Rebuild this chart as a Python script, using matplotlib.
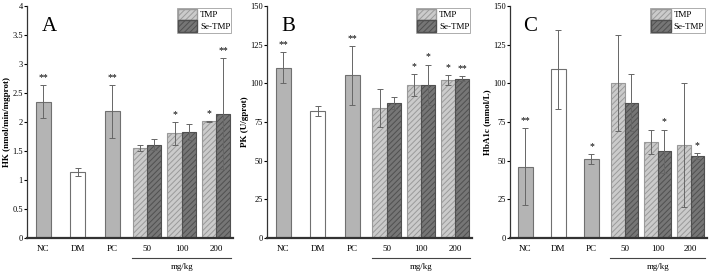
import numpy as np
import matplotlib.pyplot as plt
from matplotlib.patches import Patch
import matplotlib.transforms as mtransforms

plt.rcParams['font.family'] = ['Liberation Serif', 'DejaVu Serif']
plt.rcParams['hatch.linewidth'] = 0.7

categories = ['NC', 'DM', 'PC', '50', '100', '200']
single_groups = ['NC', 'DM', 'PC']
dose_groups = ['50', '100', '200']

# Panel A: HK
hk_single = [2.35, 1.13, 2.18]
hk_single_err = [0.28, 0.07, 0.46]
hk_tmp = [1.55, 1.80, 2.01]
hk_tmp_err = [0.06, 0.20, 0.01]
hk_se = [1.61, 1.82, 2.14]
hk_se_err = [0.10, 0.14, 0.96]
hk_single_sig = ['**', '', '**']
hk_tmp_sig = ['', '*', '*']
hk_se_sig = ['', '', '**']

# Panel B: PK
pk_single = [110, 82, 105]
pk_single_err = [10, 3, 19]
pk_tmp = [84, 99, 102]
pk_tmp_err = [12, 7, 3]
pk_se = [87, 99, 103]
pk_se_err = [4, 13, 1.5]
pk_single_sig = ['**', '', '**']
pk_tmp_sig = ['', '*', '*']
pk_se_sig = ['', '*', '**']

# Panel C: HbA1c
hb_single = [46, 109, 51]
hb_single_err = [25, 25.5, 3]
hb_tmp = [100, 62, 60]
hb_tmp_err = [31, 8, 40]
hb_se = [87.5, 56, 53]
hb_se_err = [18.5, 14, 2]
hb_single_sig = ['**', '', '*']
hb_tmp_sig = ['', '', '']
hb_se_sig = ['', '*', '*']

single_colors = ['#b4b4b4', 'white', '#b4b4b4']
tmp_face, tmp_edge = '#cbcbcb', '#9a9a9a'
se_face, se_edge = '#767676', '#505050'


def panel(ax, letter, ylabel, ymax, yticks, single, single_err, tmp, tmp_err,
          se, se_err, s_sig, t_sig, e_sig, star_off):
    w1 = 0.44
    w = 0.41
    xs = np.arange(3)
    xd = np.arange(3, 6)
    ax.bar(xs, single, w1, color=single_colors, edgecolor='#707070', linewidth=0.8)
    ax.errorbar(xs, single, yerr=single_err, fmt='none', ecolor='#666666',
                elinewidth=0.7, capsize=2, capthick=0.7)
    ax.bar(xd - w / 2, tmp, w, color=tmp_face, edgecolor=tmp_edge,
           hatch='//////', linewidth=0.8, label='TMP')
    ax.bar(xd + w / 2, se, w, color=se_face, edgecolor=se_edge,
           hatch='//////', linewidth=0.8, label='Se-TMP')
    ax.errorbar(xd - w / 2, tmp, yerr=tmp_err, fmt='none', ecolor='#666666',
                elinewidth=0.7, capsize=2, capthick=0.7)
    ax.errorbar(xd + w / 2, se, yerr=se_err, fmt='none', ecolor='#666666',
                elinewidth=0.7, capsize=2, capthick=0.7)
    for x, v, e, s in zip(xs, single, single_err, s_sig):
        if s:
            ax.text(x, v + e + star_off, s, ha='center', va='bottom', fontsize=7)
    for x, v, e, s in zip(xd - w / 2, tmp, tmp_err, t_sig):
        if s:
            ax.text(x, v + e + star_off, s, ha='center', va='bottom', fontsize=7)
    for x, v, e, s in zip(xd + w / 2, se, se_err, e_sig):
        if s:
            ax.text(x, v + e + star_off, s, ha='center', va='bottom', fontsize=7)

    ax.set_xlim(-0.47, 5.49)
    ax.set_ylim(0, ymax)
    ax.set_yticks(yticks)
    ax.set_yticklabels([('%g' % t) for t in yticks], fontsize=6)
    ax.set_xticks(range(6))
    ax.set_xticklabels(categories, fontsize=6.5)
    ax.tick_params(axis='x', length=0, pad=5)
    ax.tick_params(axis='y', length=2, width=0.8, pad=1)
    ax.spines['top'].set_visible(False)
    ax.spines['right'].set_visible(False)
    ax.spines['left'].set_linewidth(0.9)
    ax.spines['bottom'].set_linewidth(1.6)
    ax.spines['left'].set_color('#333333')
    ax.spines['bottom'].set_color('#333333')
    ax.set_ylabel(ylabel, fontsize=6.5, fontweight='bold', labelpad=1)
    ax.text(0.07, 0.95, letter, transform=ax.transAxes, fontsize=15,
            va='top', ha='left')

    trans = mtransforms.blended_transform_factory(ax.transData, ax.transAxes)
    ax.plot([3 - w * 1.05, 5 + w * 1.05], [-0.088, -0.088], transform=trans,
            color='#444444', lw=0.8, clip_on=False)
    ax.text(4, -0.125, 'mg/kg', transform=trans, ha='center', va='center',
            fontsize=6.5)

    handles = [Patch(facecolor=tmp_face, edgecolor=tmp_edge, hatch='//////'),
               Patch(facecolor=se_face, edgecolor=se_edge, hatch='//////')]
    leg = ax.legend(handles, ['TMP', 'Se-TMP'], loc='upper right', fontsize=6.5,
                    frameon=True, fancybox=False, handlelength=2.2,
                    handleheight=1.6, handletextpad=0.3, borderpad=0.1,
                    labelspacing=0.0, borderaxespad=0.2)
    leg.get_frame().set_edgecolor('#888888')
    leg.get_frame().set_linewidth(0.6)


fig = plt.figure(figsize=(7.09, 2.77), dpi=100)
ax1 = fig.add_axes([0.038, 0.141, 0.291, 0.838])
ax2 = fig.add_axes([0.377, 0.141, 0.289, 0.838])
ax3 = fig.add_axes([0.719, 0.141, 0.278, 0.838])

panel(ax1, 'A', 'HK (nmol/min/mgprot)', 4, [0, 0.5, 1, 1.5, 2, 2.5, 3, 3.5, 4],
      hk_single, hk_single_err, hk_tmp, hk_tmp_err, hk_se, hk_se_err,
      hk_single_sig, hk_tmp_sig, hk_se_sig, 0.05)
panel(ax2, 'B', 'PK (U/gprot)', 150, [0, 25, 50, 75, 100, 125, 150],
      pk_single, pk_single_err, pk_tmp, pk_tmp_err, pk_se, pk_se_err,
      pk_single_sig, pk_tmp_sig, pk_se_sig, 2)
panel(ax3, 'C', 'HbA1c (mmol/L)', 150, [0, 25, 50, 75, 100, 125, 150],
      hb_single, hb_single_err, hb_tmp, hb_tmp_err, hb_se, hb_se_err,
      hb_single_sig, hb_tmp_sig, hb_se_sig, 2)

fig.savefig('out.png', dpi=100)
